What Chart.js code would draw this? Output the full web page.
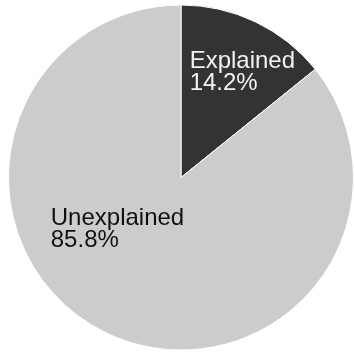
<!DOCTYPE html>
<html><head><meta charset="utf-8">
<script src="https://cdn.jsdelivr.net/npm/chart.js@4/dist/chart.umd.min.js"></script>
<style>html,body{margin:0;padding:0;background:#fff}#wrap{width:354px;height:356px}</style>
</head><body><div id="wrap"><canvas id="c" width="354" height="356"></canvas></div>
<script>
const categories = ["Explained", "Unexplained"];
const shares = [14.2, 85.8];
const sliceColors = ["#333333", "#cccccc"];
const labelColors = ["#f2f2f2", "#111111"];

const sliceLabels = {
  id: 'sliceLabels',
  afterDatasetsDraw(chart, args, opts) {
    const ctx = chart.ctx;
    const arcs = chart.getDatasetMeta(0).data;
    ctx.save();
    ctx.font = opts.font;
    ctx.textAlign = 'left';
    ctx.textBaseline = 'top';
    arcs.forEach((arc, i) => {
      const p = opts.anchors[i];
      const x = arc.x + p[0] * arc.outerRadius;
      const y = arc.y + p[1] * arc.outerRadius;
      ctx.fillStyle = labelColors[i];
      ctx.fillText(categories[i], x, y);
      ctx.fillText(shares[i].toFixed(1) + '%', x, y + opts.lineHeight);
    });
    ctx.restore();
  }
};

new Chart(document.getElementById('c'), {
  type: 'pie',
  data: {
    labels: categories,
    datasets: [{
      data: shares,
      backgroundColor: sliceColors,
      borderColor: '#ffffff',
      borderWidth: 1
    }]
  },
  options: {
    responsive: false,
    animation: false,
    layout: { padding: { left: 8, right: 0, top: 3, bottom: 4 } },
    plugins: {
      legend: { display: false },
      tooltip: { enabled: false },
      sliceLabels: {
        font: '24px "Liberation Sans", Arial, sans-serif',
        lineHeight: 22,
        anchors: [[0.05, -0.745], [-0.755, 0.165]]
      }
    }
  },
  plugins: [sliceLabels]
});
</script></body></html>
